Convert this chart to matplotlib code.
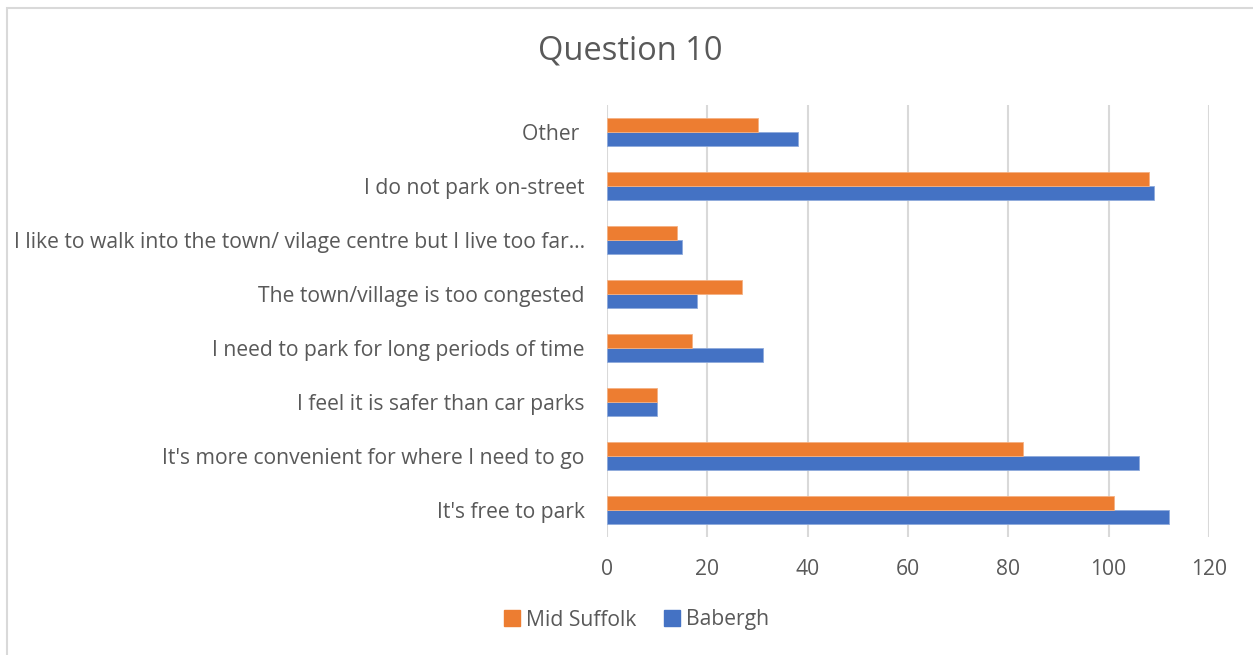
import numpy as np
import matplotlib.pyplot as plt
from matplotlib.patches import Rectangle, Patch

categories = ["It's free to park",
              "It's more convenient for where I need to go",
              "I feel it is safer than car parks",
              "I need to park for long periods of time",
              "The town/village is too congested",
              "I like to walk into the town/ vilage centre but I live too far\u2026",
              "I do not park on-street",
              "Other "]
mid_suffolk = [101, 83, 10, 17, 27, 14, 108, 30]
babergh = [112, 106, 10, 31, 18, 15, 109, 38]

orange = '#ed7d31'
blue = '#4472c4'
text_col = '#595959'

plt.rcParams['font.family'] = ['Open Sans', 'DejaVu Sans']

fig = plt.figure(figsize=(12.53, 6.55), dpi=100)
ax = fig.add_axes([607 / 1253, 1 - 537 / 655, 602 / 1253, 432 / 655])

y = np.arange(len(categories))
h = 0.26
ax.barh(y - h / 2, babergh, height=h, color=blue, edgecolor='#8faadc', linewidth=0.6, zorder=3)
ax.barh(y + h / 2, mid_suffolk, height=h, color=orange, edgecolor='#f4b183', linewidth=0.6, zorder=3)

ax.set_xlim(0, 120)
ax.set_ylim(-0.5, len(categories) - 0.5)
ax.set_xticks(np.arange(0, 121, 20))
ax.set_yticks(y)
ax.set_yticklabels(categories)
ax.tick_params(axis='both', length=0, labelsize=15.2, colors=text_col)
ax.tick_params(axis='y', pad=16)
ax.tick_params(axis='x', pad=16)
ax.grid(axis='x', color='#d9d9d9', linewidth=1.5, zorder=0)
for s in ax.spines.values():
    s.set_visible(False)

fig.text(0.503, 1 - 51 / 655, 'Question 10', ha='center', va='center', fontsize=23.5, color=text_col)

handles = [Patch(color=orange, label='Mid Suffolk'), Patch(color=blue, label='Babergh')]
fig.legend(handles=handles, loc='center', bbox_to_anchor=(0.508, 1 - 620 / 655), ncol=2,
           frameon=False, fontsize=15.2, labelcolor=text_col, handlelength=0.75, handleheight=0.75,
           handletextpad=0.3, columnspacing=1.3)

# outer chart frame (left and top edges visible)
fig.patches.append(Rectangle((6.5 / 1253, -0.1), 1.2, 1 - 7.5 / 655 + 0.1, transform=fig.transFigure,
                             fill=False, edgecolor='#d9d9d9', linewidth=1.5))

fig.savefig('out.png', dpi=100)
